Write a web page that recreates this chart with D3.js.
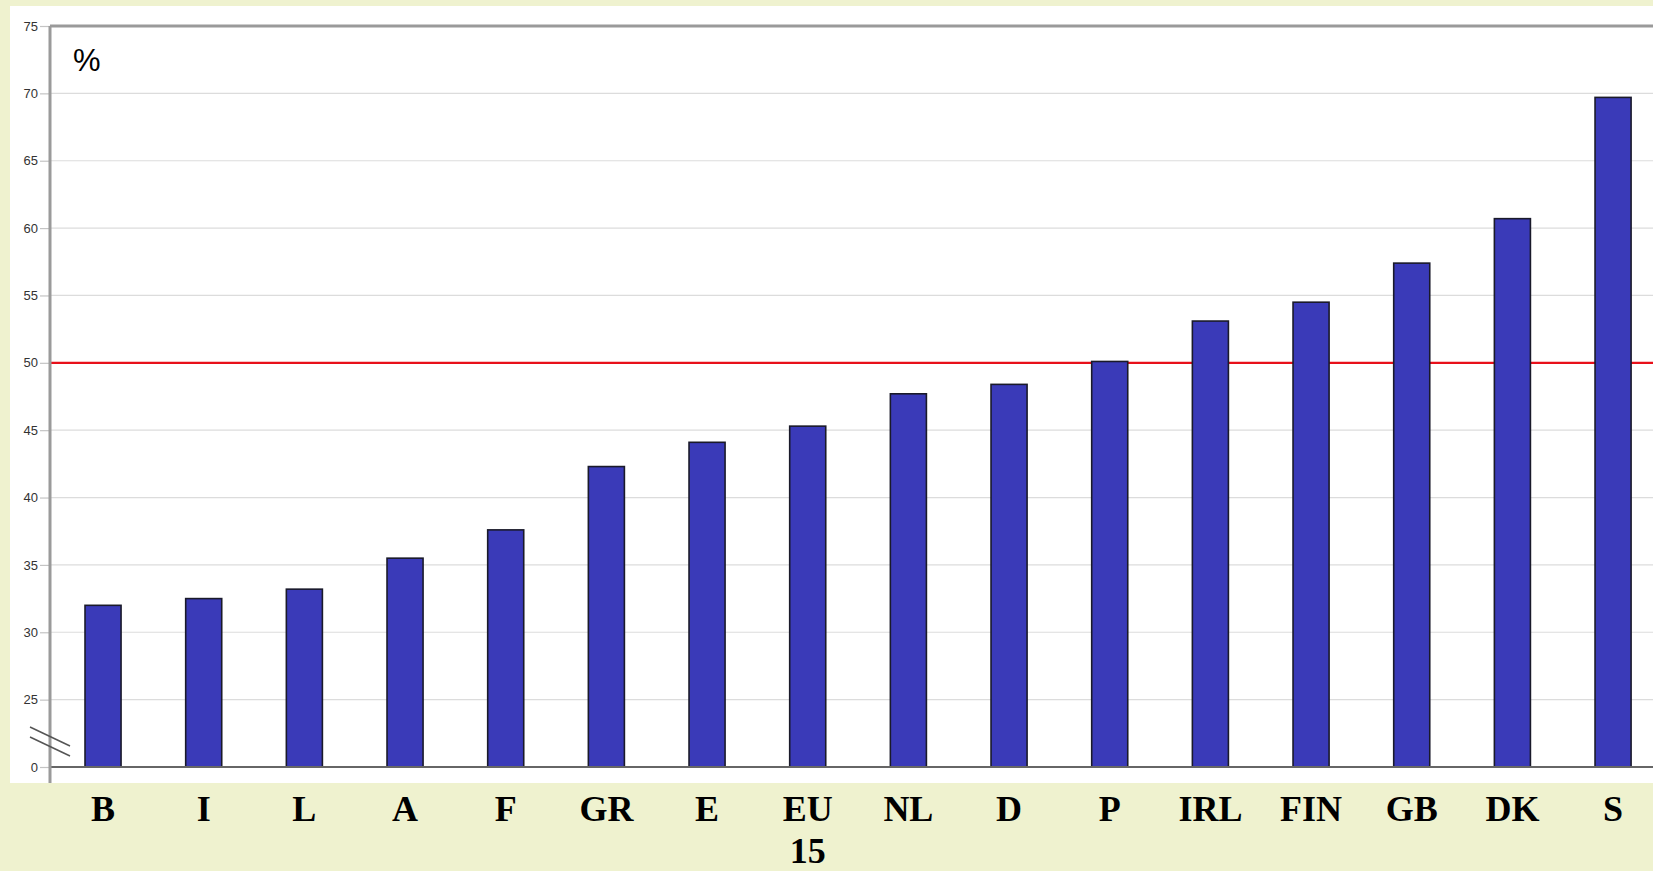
<!DOCTYPE html>
<html>
<head>
<meta charset="utf-8">
<script src="https://cdn.jsdelivr.net/npm/d3@7"></script>
<style>
html,body{margin:0;padding:0;background:#eff2cf;}
svg{display:block;}
</style>
</head>
<body>
<svg id="chart" width="1653" height="871"></svg>
<script>
const categories = ["B","I","L","A","F","GR","E","EU 15","NL","D","P","IRL","FIN","GB","DK","S"];
const values = [32.0,32.5,33.2,35.5,37.6,42.3,44.1,45.3,47.7,48.4,50.1,53.1,54.5,57.4,60.7,69.7];
const tickValues = [20,25,30,35,40,45,50,55,60,65,70,75];
const tickLabels = ["0","25","30","35","40","45","50","55","60","65","70","75"];
const referenceValue = [50];
const unitLabel = "%";

const svg = d3.select("#chart");
const W = 1653, H = 871;
const plotLeft = 50, plotTop = 26, plotBottom = 767;

svg.append("rect").attr("x",10).attr("y",6).attr("width",W-10).attr("height",777).attr("fill","#ffffff");

const y = d3.scaleLinear().domain([20,75]).range([plotBottom, plotTop]);
const x = d3.scaleBand().domain(categories).range([52.7, 1663.4]).paddingInner(0.642).paddingOuter(0.321);

// gridlines
svg.append("g").selectAll("line").data(tickValues.filter(v => v > 20 && v < 75)).join("line")
  .attr("x1", plotLeft).attr("x2", W).attr("y1", d => y(d)).attr("y2", d => y(d))
  .attr("stroke", "#dcdcdc").attr("stroke-width", 1.2);

// reference line
svg.append("g").selectAll("line").data(referenceValue).join("line")
  .attr("x1", plotLeft).attr("x2", W).attr("y1", d => y(d)).attr("y2", d => y(d))
  .attr("stroke", "#e8101a").attr("stroke-width", 2.2);

// axis with ticks
const axis = d3.axisLeft(y).tickValues(tickValues).tickFormat((d,i) => tickLabels[i]).tickSize(10).tickPadding(2);
const ag = svg.append("g").attr("transform", `translate(${plotLeft},0)`).call(axis);
ag.select(".domain").remove();
ag.selectAll(".tick line").attr("stroke", "#c4c4c4").attr("stroke-width", 1.2);
ag.selectAll(".tick text").attr("fill", "#333").style("font-family", "'Liberation Sans', Arial, sans-serif").style("font-size", "13px");

// top border
svg.append("line").attr("x1", plotLeft).attr("x2", W).attr("y1", y(75)).attr("y2", y(75))
  .attr("stroke", "#9a9a9a").attr("stroke-width", 3);

// bars
svg.append("g").selectAll("rect").data(categories).join("rect")
  .attr("x", d => x(d)).attr("width", x.bandwidth())
  .attr("y", (d,i) => y(values[i])).attr("height", (d,i) => y(20) - y(values[i]))
  .attr("fill", "#3a3ab8").attr("stroke", "#1a1a2a").attr("stroke-width", 1.6);

// zero axis
svg.append("line").attr("x1", plotLeft).attr("x2", W).attr("y1", y(20)).attr("y2", y(20))
  .attr("stroke", "#666").attr("stroke-width", 2);

// left axis
svg.append("line").attr("x1", plotLeft).attr("x2", plotLeft).attr("y1", plotTop).attr("y2", 783)
  .attr("stroke", "#9a9a9a").attr("stroke-width", 3);

// break marks
[0, 10].forEach(o => {
  svg.append("line").attr("x1", 30).attr("y1", 727 + o).attr("x2", 70).attr("y2", 746 + o)
    .attr("stroke", "#555").attr("stroke-width", 1.5);
});

// unit label
svg.append("text").attr("x", 73).attr("y", 71).text(unitLabel)
  .style("font-family", "'Liberation Sans', Arial, sans-serif").style("font-size", "31px").attr("fill", "#000");

// category labels
const lg = svg.append("g").selectAll("text").data(categories).join("text")
  .attr("x", d => x(d) + x.bandwidth()/2).attr("y", 821)
  .attr("text-anchor", "middle")
  .style("font-family", "'Liberation Serif', 'Times New Roman', serif").style("font-weight", "bold").style("font-size", "36px")
  .attr("fill", "#000");
lg.each(function(d){
  const parts = d.split(" ");
  const t = d3.select(this);
  parts.forEach((p, i) => {
    t.append("tspan").attr("x", x(d) + x.bandwidth()/2).attr("dy", i === 0 ? 0 : 42).text(p);
  });
});
</script>
</body>
</html>
